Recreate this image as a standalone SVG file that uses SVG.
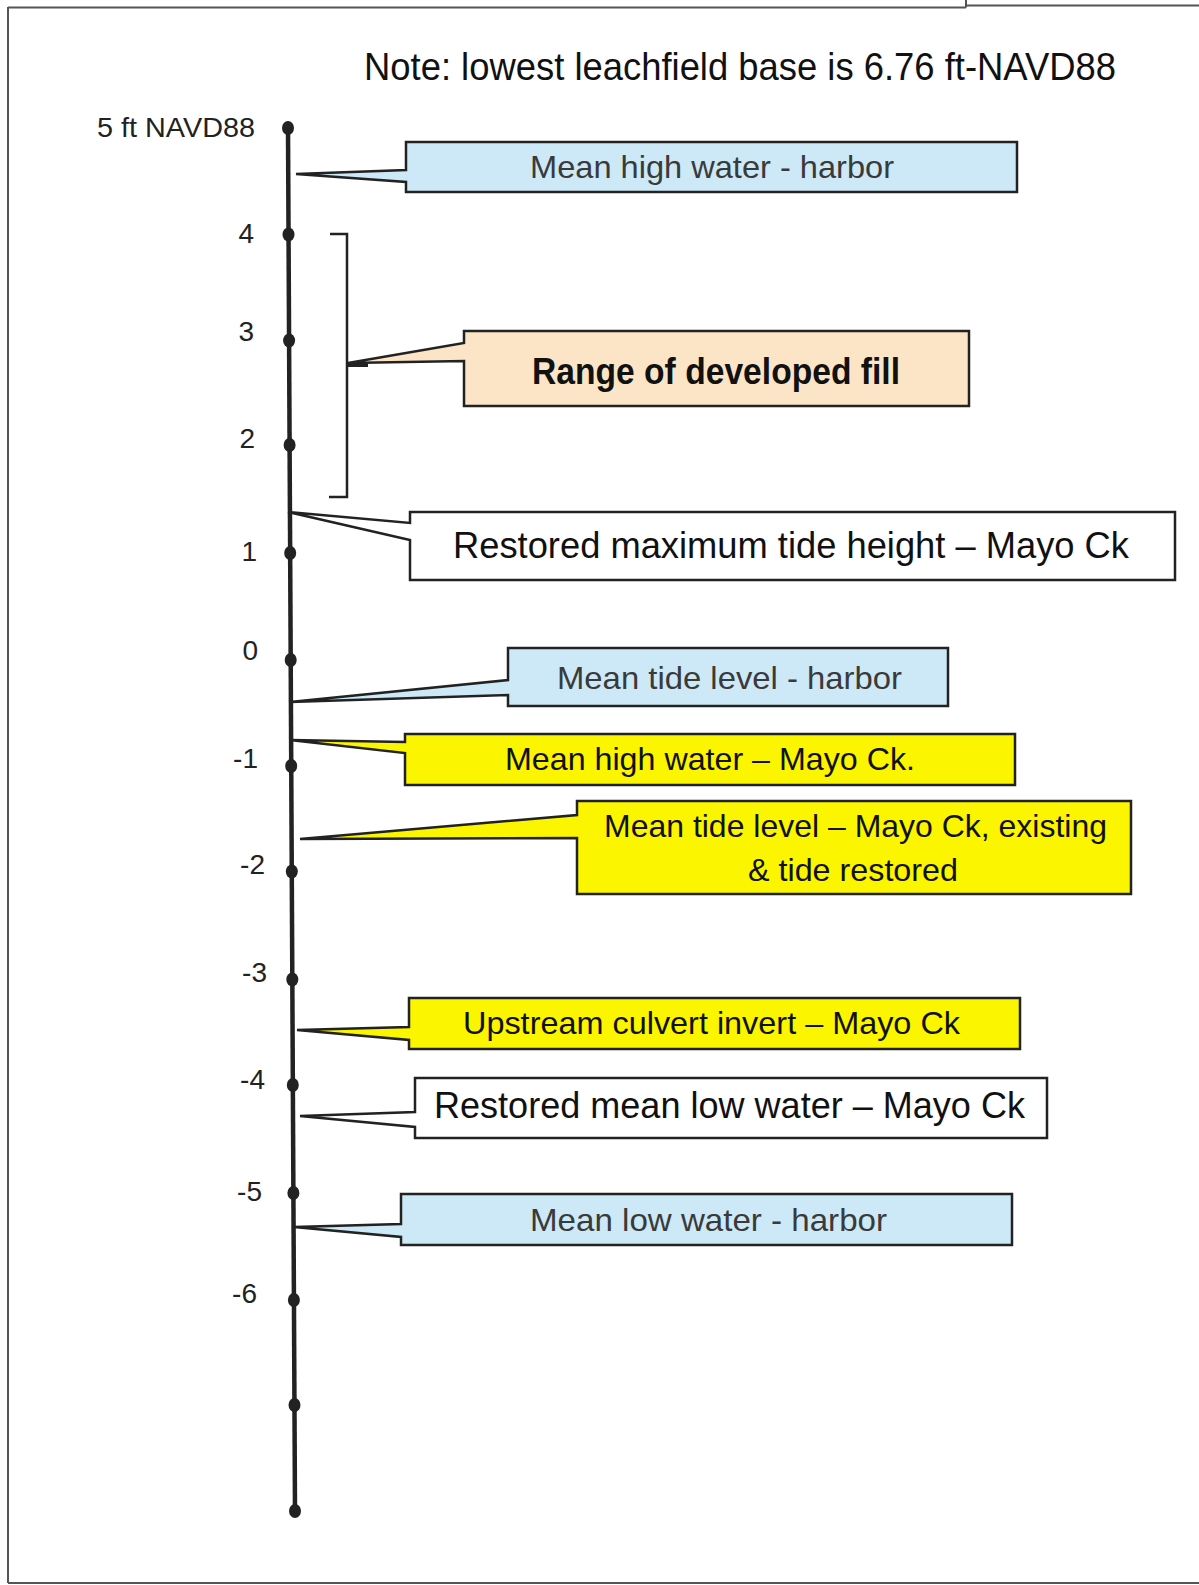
<svg xmlns="http://www.w3.org/2000/svg" width="1199" height="1585" viewBox="0 0 1199 1585">
<style>
.frame{stroke:#555;stroke-width:2;fill:none}
.box{stroke:#222;stroke-width:2.5;stroke-linejoin:miter}
.blue{fill:#cde9f7}
.peach{fill:#fbe5c6}
.yellow{fill:#fbf500}
.white{fill:#fff}
.t{font-family:"Liberation Sans",Arial,sans-serif;fill:#111}
.h{fill:#3a3a3a}
.ax{font-family:"Liberation Sans",Arial,sans-serif;font-size:28px;fill:#222;text-anchor:end}
.dot{fill:#222}
</style>
<rect x="0" y="0" width="1199" height="1585" fill="#fff"/>
<g id="frame">
<line class="frame" x1="8" y1="7.5" x2="966" y2="7.5"/>
<line class="frame" x1="966" y1="5.5" x2="1199" y2="5.5"/>
<line class="frame" x1="966" y1="0" x2="966" y2="7.5"/>
<line class="frame" x1="8" y1="7" x2="8" y2="1583"/>
<line class="frame" x1="8" y1="1583" x2="1199" y2="1583"/>
</g>
<text id="title" class="t" x="364" y="80" font-size="39" textLength="752" lengthAdjust="spacingAndGlyphs">Note: lowest leachfield base is 6.76 ft-NAVD88</text>
<g id="axis">
<line x1="288" y1="128" x2="295" y2="1511" stroke="#222" stroke-width="4.5"/>
<ellipse class="dot" cx="288" cy="128" rx="6" ry="7"/>
<ellipse class="dot" cx="288.5" cy="234.5" rx="6" ry="7"/>
<ellipse class="dot" cx="289.1" cy="340.5" rx="6" ry="7"/>
<ellipse class="dot" cx="289.6" cy="445" rx="6" ry="7"/>
<ellipse class="dot" cx="290.2" cy="553" rx="6" ry="7"/>
<ellipse class="dot" cx="290.7" cy="660" rx="6" ry="7"/>
<ellipse class="dot" cx="291.2" cy="766" rx="6" ry="7"/>
<ellipse class="dot" cx="291.8" cy="871.5" rx="6" ry="7"/>
<ellipse class="dot" cx="292.3" cy="979.5" rx="6" ry="7"/>
<ellipse class="dot" cx="292.8" cy="1085" rx="6" ry="7"/>
<ellipse class="dot" cx="293.4" cy="1193" rx="6" ry="7"/>
<ellipse class="dot" cx="293.9" cy="1300" rx="6" ry="7"/>
<ellipse class="dot" cx="294.5" cy="1405" rx="6" ry="7"/>
<ellipse class="dot" cx="295" cy="1511" rx="6" ry="7"/>
<text class="ax" x="255" y="137" textLength="158" lengthAdjust="spacingAndGlyphs">5 ft NAVD88</text>
<text class="ax" x="254" y="243">4</text>
<text class="ax" x="254" y="341">3</text>
<text class="ax" x="255" y="448">2</text>
<text class="ax" x="257" y="561">1</text>
<text class="ax" x="258" y="660">0</text>
<text class="ax" x="258" y="768">-1</text>
<text class="ax" x="265" y="874">-2</text>
<text class="ax" x="267" y="982">-3</text>
<text class="ax" x="265" y="1089">-4</text>
<text class="ax" x="262" y="1201">-5</text>
<text class="ax" x="257" y="1303">-6</text>
</g>
<g id="bracket">
<path d="M330,234 H347 V497 H329" fill="none" stroke="#222" stroke-width="2.5"/>
<line x1="348" y1="365" x2="368" y2="365" stroke="#222" stroke-width="4"/>
</g>
<g id="mhw-harbor">
<path class="box blue" d="M406,142 H1017 V192 H406 V182 L296,174 L406,170 Z"/>
<text class="t h" x="530" y="178" font-size="32" textLength="364" lengthAdjust="spacingAndGlyphs">Mean high water - harbor</text>
</g>
<g id="developed-fill">
<path class="box peach" d="M464,331 H969 V406 H464 V361 L348,363 L464,343 Z"/>
<text class="t" x="532" y="384" font-size="37" font-weight="bold" textLength="368" lengthAdjust="spacingAndGlyphs">Range of developed fill</text>
</g>
<g id="restored-max-tide">
<path class="box white" d="M410,512 H1175 V580 H410 V540 L288,512 L410,523 Z"/>
<text class="t" x="453" y="558" font-size="36" textLength="676" lengthAdjust="spacingAndGlyphs">Restored maximum tide height – Mayo Ck</text>
</g>
<g id="mtl-harbor">
<path class="box blue" d="M508,648 H948 V706 H508 V695 L290,702 L508,680 Z"/>
<text class="t h" x="557" y="689" font-size="32" textLength="345" lengthAdjust="spacingAndGlyphs">Mean tide level - harbor</text>
</g>
<g id="mhw-mayo">
<path class="box yellow" d="M405,734 H1015 V785 H405 V753 L290,740 L405,742 Z"/>
<text class="t" x="505" y="770" font-size="32" textLength="410" lengthAdjust="spacingAndGlyphs">Mean high water – Mayo Ck.</text>
</g>
<g id="mtl-mayo">
<path class="box yellow" d="M577,801 H1131 V894 H577 V838 L300,839 L577,815 Z"/>
<text class="t" x="604" y="837" font-size="32" textLength="503" lengthAdjust="spacingAndGlyphs">Mean tide level – Mayo Ck, existing</text>
<text class="t" x="748" y="881" font-size="32" textLength="210" lengthAdjust="spacingAndGlyphs">&amp; tide restored</text>
</g>
<g id="culvert">
<path class="box yellow" d="M409,998 H1020 V1049 H409 V1040 L297,1030 L409,1027 Z"/>
<text class="t" x="463" y="1034" font-size="32" textLength="497" lengthAdjust="spacingAndGlyphs">Upstream culvert invert – Mayo Ck</text>
</g>
<g id="restored-mlw">
<path class="box white" d="M415,1078 H1047 V1138 H415 V1127 L300,1116 L415,1112 Z"/>
<text class="t" x="434" y="1118" font-size="36" textLength="591" lengthAdjust="spacingAndGlyphs">Restored mean low water – Mayo Ck</text>
</g>
<g id="mlw-harbor">
<path class="box blue" d="M401,1194 H1012 V1245 H401 V1237 L294,1227 L401,1224 Z"/>
<text class="t h" x="530" y="1231" font-size="32" textLength="357" lengthAdjust="spacingAndGlyphs">Mean low water - harbor</text>
</g>
</svg>
